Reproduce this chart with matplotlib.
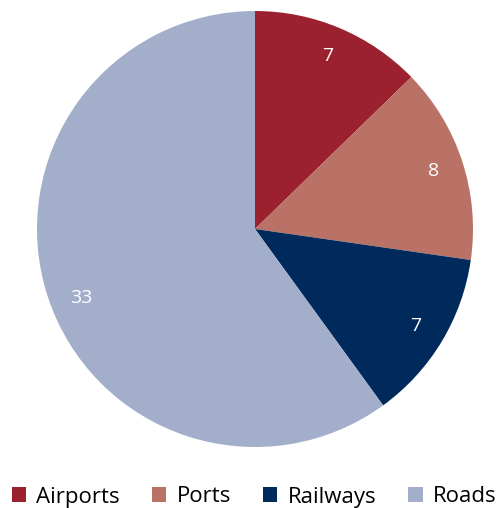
import matplotlib.pyplot as plt
from matplotlib.patches import Patch

labels = ["Airports", "Ports", "Railways", "Roads"]
values = [7, 8, 7, 33]
colors = ["#9A212D", "#B97265", "#002A5C", "#A3AECB"]

plt.rcParams['font.family'] = ['Open Sans', 'DejaVu Sans']

fig = plt.figure(figsize=(5.01, 5.08), dpi=100)
ax = fig.add_axes([37/501, 61/508, 436/501, 436/508])

wedges, texts = ax.pie(values, colors=colors, startangle=90, counterclock=False,
                       labels=[str(v) for v in values], labeldistance=0.86,
                       textprops=dict(color="white", fontsize=14))
for t in texts:
  t.set_horizontalalignment('center')
  t.set_verticalalignment('center')
# the big slice label sits a bit lower in the original
x, y = texts[3].get_position()
texts[3].set_position((x + 0.02, y - 0.05))
ax.set_xlim(-1, 1)
ax.set_ylim(-1, 1)

handles = [Patch(facecolor=c, edgecolor='none') for c in colors]
fig.legend(handles, labels, loc='center', bbox_to_anchor=(254/501, 11/508), ncol=4,
           frameon=False, fontsize=16, handlelength=0.65, handleheight=0.65,
           handletextpad=0.45, columnspacing=1.45, borderaxespad=0, borderpad=0)

fig.savefig("out.png", dpi=100)
